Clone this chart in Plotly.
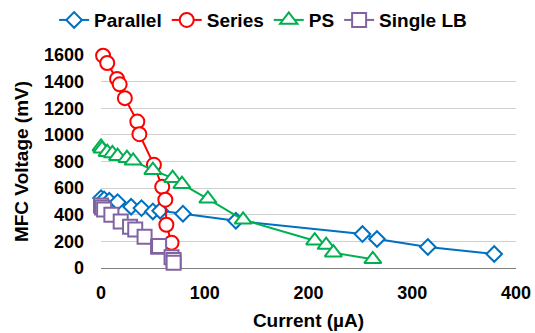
import plotly.graph_objects as go

par_x = [0, 3, 8, 16, 29, 39, 50, 57, 79, 130, 252, 266, 315, 379]
par_y = [525, 515, 505, 495, 460, 450, 425, 430, 408, 355, 255, 218, 158, 105]

ser_x = [0, 2, 6, 15.5, 18, 23, 35, 37, 51, 59, 62, 63, 68]
ser_y = [1610, 1595, 1540, 1420, 1380, 1276, 1100, 1005, 775, 610, 513, 325, 190]

ps_x = [0, 1, 6, 11, 16, 25, 31, 50, 69, 78, 103, 137, 206, 217, 224, 262]
ps_y = [910, 895, 870, 860, 840, 825, 805, 735, 675, 630, 520, 362, 205, 172, 115, 65]

lb_x = [0, 1, 3, 10, 19, 28, 33, 42, 55, 56, 68, 70, 70]
lb_y = [470, 455, 440, 400, 350, 310, 290, 235, 160, 165, 80, 60, 40]

x_ticks = [0, 100, 200, 300, 400]
y_ticks = [0, 200, 400, 600, 800, 1000, 1200, 1400, 1600]

series = [
    ("Parallel", par_x, par_y, "#0070C0", "diamond", 12),
    ("Series", ser_x, ser_y, "#FF0000", "circle", 14),
    ("PS", ps_x, ps_y, "#00B050", "triangle-up", 15),
    ("Single LB", lb_x, lb_y, "#8064A2", "square", 14),
]

fig = go.Figure()
for name, x, y, c, sym, sz in series:
    fig.add_trace(go.Scatter(
        x=x, y=y, name="<b>" + name + "</b>", mode="lines+markers", cliponaxis=False,
        line=dict(color=c, width=2),
        marker=dict(symbol=sym, size=sz, color="white", line=dict(color=c, width=2)),
    ))

font = dict(family="Liberation Sans, Arial, sans-serif", size=18, color="black")
fig.update_layout(
    width=535, height=333,
    margin=dict(l=101, r=19, t=55, b=65, autoexpand=False),
    paper_bgcolor="white", plot_bgcolor="white",
    font=font,
    showlegend=True,
    legend=dict(orientation="h", x=-0.113, xanchor="left", y=1.164, yanchor="middle",
                font=dict(size=19, color="black"), traceorder="normal",
                itemwidth=30, tracegroupgap=0),
    xaxis=dict(range=[0, 400], tickvals=x_ticks, ticktext=["<b>%d</b>" % v for v in x_ticks],
               showgrid=False, zeroline=False, automargin=False,
               showline=False, ticks="", ticklabelstandoff=12,
               tickfont=dict(size=18),
               title=dict(text="<b>Current (µA)</b>", font=dict(size=19), standoff=11)),
    yaxis=dict(range=[0, 1600], tickvals=y_ticks, ticktext=["<b>%d</b>" % v for v in y_ticks],
               showgrid=True, gridcolor="#D0D0D0", gridwidth=1, automargin=False,
               zeroline=True, zerolinecolor="#808080", zerolinewidth=1,
               showline=False, ticks="", ticklabelstandoff=16,
               tickfont=dict(size=18),
               title=dict(text="<b>MFC Voltage (mV)</b>", font=dict(size=19), standoff=10)),
)
fig.write_html("out.html")
